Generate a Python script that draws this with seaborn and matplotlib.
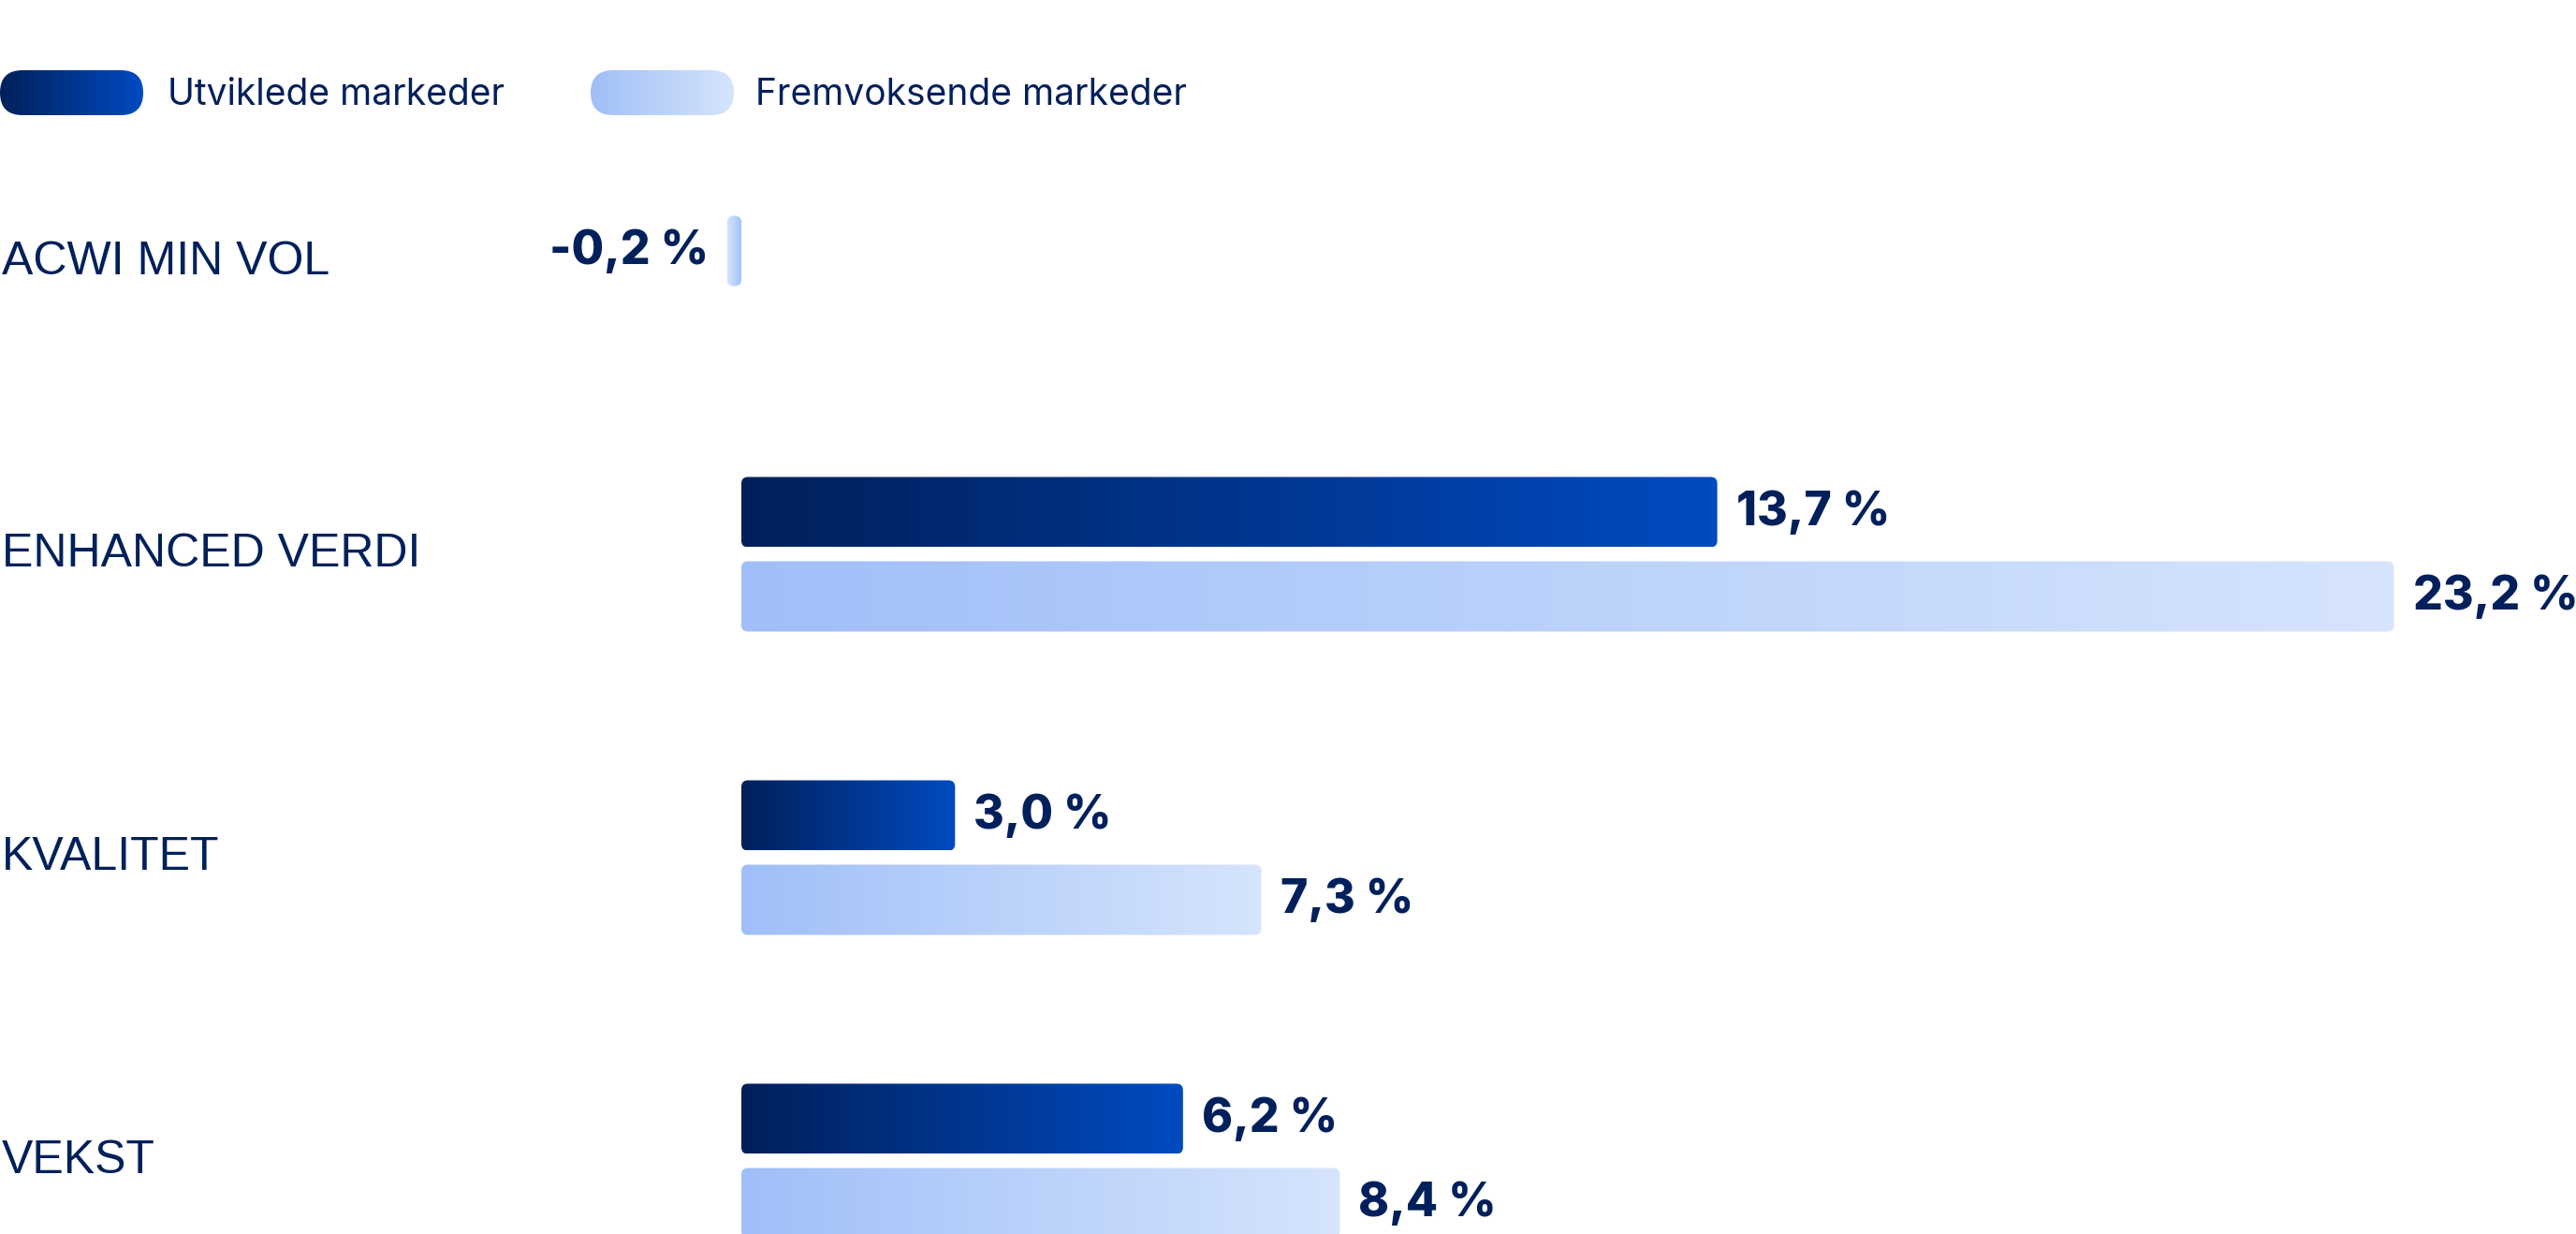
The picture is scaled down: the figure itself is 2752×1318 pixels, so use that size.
import numpy as np
import pandas as pd
import matplotlib
matplotlib.use("Agg")
import matplotlib.pyplot as plt
from matplotlib.colors import LinearSegmentedColormap
from matplotlib.patches import FancyBboxPatch
import seaborn as sns

# Data
categories = ["ACWI MIN VOL", "ENHANCED VERDI", "KVALITET", "VEKST"]
series = ["Utviklede markeder", "Fremvoksende markeder"]
developed = [np.nan, 13.7, 3.0, 6.2]
emerging = [-0.2, 23.2, 7.3, 8.4]

navy = "#00205B"
gradients = {
    "Utviklede markeder": ("#00205B", "#004BC1"),
    "Fremvoksende markeder": ("#A0BFF8", "#D6E4FD"),
}

df = pd.DataFrame({
    "Kategori": categories * 2,
    "Serie": [series[0]] * len(categories) + [series[1]] * len(categories),
    "Verdi": developed + emerging,
}).dropna()

# Figure geometry (pixels)
W, H, DPI = 2752, 1318, 100
zero_px, px_per_x = 792, 76.1
first_px, px_per_y = 268, 324
radius_px = 7

sns.set_theme(style="white")
plt.rcParams["font.family"] = ["Inter", "DejaVu Sans"]

fig = plt.figure(figsize=(W / DPI, H / DPI), dpi=DPI)
ax = fig.add_axes([0, 0, 1, 1])

sns.barplot(data=df, y="Kategori", x="Verdi", hue="Serie", order=categories,
            hue_order=series, orient="h", width=0.556, gap=0.167,
            legend=False, ax=ax)

x_lim = (-zero_px / px_per_x, (W - zero_px) / px_per_x)
y_lim = ((H - first_px) / px_per_y, -first_px / px_per_y)

counts = df.groupby("Kategori")["Serie"].count()
r = radius_px / px_per_x
aspect = px_per_x / px_per_y
grad = np.linspace(0, 1, 256).reshape(1, -1)

for container, name in zip(ax.containers, series):
    cmap = LinearSegmentedColormap.from_list(name, gradients[name])
    for bar, value in zip(container, container.datavalues):
        h = bar.get_height()
        idx = int(round(bar.get_y() + h / 2))
        # single bar in a group sits in the middle of the row
        if counts[categories[idx]] == 1:
            bar.set_y(idx - h / 2)
        bar.set_facecolor("none")
        bar.set_linewidth(0)
        x0, x1 = sorted([bar.get_x(), bar.get_x() + bar.get_width()])
        y0 = bar.get_y()
        box = FancyBboxPatch((x0, y0), x1 - x0, h,
                             boxstyle=f"round,pad=0,rounding_size={r}",
                             mutation_aspect=aspect, facecolor="none",
                             edgecolor="none")
        ax.add_patch(box)
        img = ax.imshow(grad, cmap=cmap, extent=(0, value, y0 + h, y0),
                        aspect="auto", interpolation="bicubic", zorder=2)
        img.set_clip_path(box)
    ax.bar_label(container, fmt=lambda v: f"{v:.1f} %".replace(".", ","),
                 padding=14.4, fontsize=36, fontweight=800, color=navy)

# row labels; rows with a single bar have the label sitting a little lower
for i, cat in enumerate(categories):
    nudge = 12 / px_per_y if counts[cat] == 1 else 0
    ax.text(0.0008, i + nudge, cat, transform=ax.get_yaxis_transform(),
            ha="left", va="center", fontsize=36, color=navy,
            family=["Liberation Sans", "DejaVu Sans"])

ax.set_xlim(x_lim)
ax.set_ylim(y_lim)
ax.set_axis_off()

# Legend with gradient pills
lax = fig.add_axes([0, 1 - 124 / H, 784 / W, 50 / H])
lax.set_axis_off()
pill_x = [0, 631]
text_x = [179, 807]
for name, px, tx in zip(series, pill_x, text_x):
    cmap = LinearSegmentedColormap.from_list(name + "_leg", gradients[name])
    pill = FancyBboxPatch((px, 1), 153, 48, boxstyle="round,pad=0,rounding_size=24",
                          facecolor="none", edgecolor="none")
    lax.add_patch(pill)
    img = lax.imshow(grad, cmap=cmap, extent=(px, px + 153, 1, 49),
                     aspect="auto", interpolation="bicubic")
    img.set_clip_path(pill)
    fig.text(tx / W, 1 - 102 / H, name, ha="left", va="center", fontsize=28,
             color=navy)
lax.set_xlim(0, 784)
lax.set_ylim(0, 50)

fig.savefig("out.png", dpi=DPI)
